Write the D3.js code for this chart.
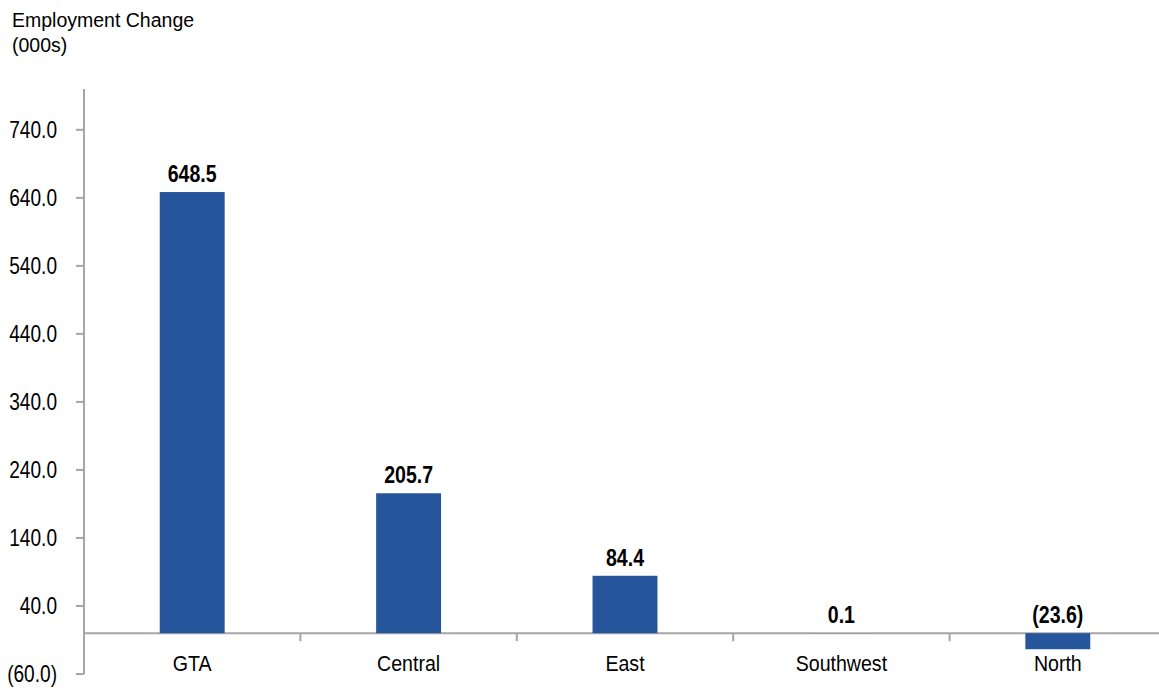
<!DOCTYPE html>
<html>
<head>
<meta charset="utf-8">
<script src="https://d3js.org/d3.v7.min.js"></script>
<style>
  body { margin: 0; background: #fff; }
  text { font-family: "Liberation Sans", Arial, sans-serif; fill: #000; }
</style>
</head>
<body>
<div id="chart"></div>
<script>
// data
var regions = ["GTA", "Central", "East", "Southwest", "North"];
var changes = [648.5, 205.7, 84.4, 0.1, -23.6];
var tickValues = [-60, 40, 140, 240, 340, 440, 540, 640, 740];
var titleLines = ["Employment Change", "(000s)"];

var width = 1159, height = 689;

var svg = d3.select("#chart").append("svg")
    .attr("width", width)
    .attr("height", height);

var y = d3.scaleLinear().domain([-60, 800]).range([674, 89]);
var x = d3.scaleBand().domain(regions).range([84, 1166]).padding(0);
var barW = x.bandwidth() * 0.3;

var fmt = function (v) {
  var s = d3.format(".1f")(Math.abs(v));
  return v < 0 ? "(" + s + ")" : s;
};

// labels in the picture are a bit narrow, so squeeze them sideways
function label(g, tx, ty, txt, opts) {
  var sx = opts.sx || 0.87;
  return g.append("text")
      .attr("transform", "translate(" + tx + "," + ty + ") scale(" + sx + ",1)")
      .attr("text-anchor", opts.anchor || "middle")
      .attr("dy", opts.dy || 0)
      .attr("font-size", opts.size || 22)
      .attr("font-weight", opts.weight || "normal")
      .text(txt);
}

// title
svg.append("g").selectAll("text")
  .data(titleLines)
  .join("text")
    .attr("x", 12)
    .attr("y", (d, i) => 27 + i * 25)
    .attr("font-size", 19.5)
    .text(d => d);

// y axis line and ticks
var axisG = svg.append("g").attr("stroke", "#a6a6a6").attr("stroke-width", 2);
axisG.append("line")
    .attr("x1", 84).attr("x2", 84)
    .attr("y1", y(800)).attr("y2", y(-60));
axisG.selectAll(".yt")
  .data(tickValues)
  .join("line")
    .attr("x1", 76).attr("x2", 84)
    .attr("y1", d => y(d)).attr("y2", d => y(d));

var tickG = svg.append("g");
tickValues.forEach(function (v) {
  label(tickG, 57, y(v), fmt(v), { anchor: "end", dy: "0.35em", size: 23, sx: 0.83 });
});

// bars
svg.append("g").selectAll("rect")
  .data(changes)
  .join("rect")
    .attr("x", (d, i) => x(regions[i]) + (x.bandwidth() - barW) / 2)
    .attr("width", barW)
    .attr("y", d => y(Math.max(0, d)))
    .attr("height", d => Math.abs(y(d) - y(0)))
    .attr("fill", "#26559b");

// zero line and category ticks
axisG.append("line")
    .attr("x1", 84).attr("x2", width)
    .attr("y1", y(0)).attr("y2", y(0));
axisG.selectAll(".xt")
  .data(regions.slice(1))
  .join("line")
    .attr("x1", d => x(d)).attr("x2", d => x(d))
    .attr("y1", y(0)).attr("y2", y(0) + 8);

// value labels
var valG = svg.append("g");
changes.forEach(function (v, i) {
  var cx = x(regions[i]) + x.bandwidth() / 2;
  label(valG, cx, y(Math.max(0, v)) - 10, fmt(v), { weight: "bold", size: 23, sx: 0.85 });
});

// category labels
var catG = svg.append("g");
regions.forEach(function (r) {
  label(catG, x(r) + x.bandwidth() / 2, 671, r, { size: 22.5 });
});
</script>
</body>
</html>
